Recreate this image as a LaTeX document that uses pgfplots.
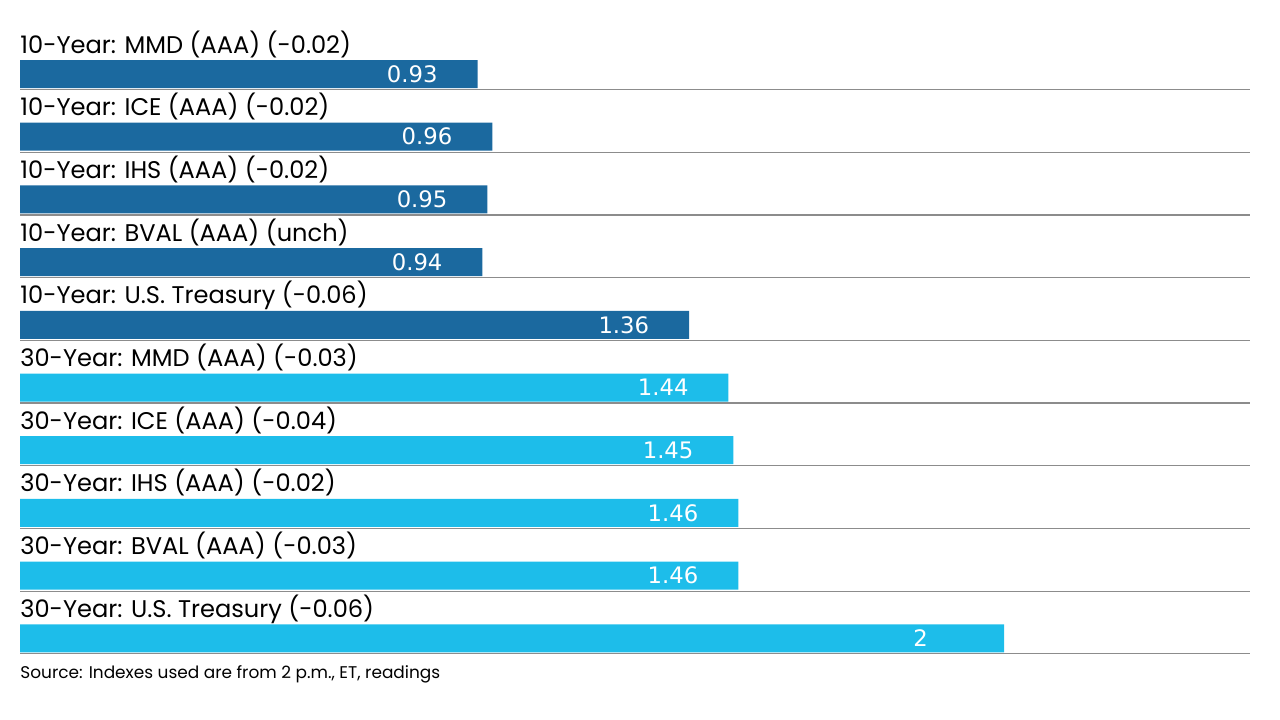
\documentclass[border=0pt]{standalone}
\usepackage{fontspec}
\setmainfont{Poppins}
\newfontfamily\valfont{DejaVu Sans}
\usepackage{pgfplots}
\pgfplotsset{compat=1.18}
\definecolor{darkblue}{HTML}{1B699F}
\definecolor{lightblue}{HTML}{1DBDEA}
\definecolor{sepgray}{HTML}{8C8C8C}
\begin{document}
\begin{tikzpicture}
\useasboundingbox (0,0) rectangle (640bp,360bp);
\begin{axis}[
    at={(0,0)}, anchor=south west,
    scale only axis, width=640bp, height=360bp,
    hide axis, clip=false,
    xmin=-0.04065, xmax=2.56098,
    ymin=0, ymax=720, y dir=reverse,
    xbar, bar shift=0pt, bar width=28,
    point meta=explicit symbolic,
    nodes near coords,
    every node near coord/.append style={anchor=west, xshift=-45.5bp, inner sep=0pt,
        text=white, font=\valfont\fontsize{11.4}{13}\selectfont},
]
% rows: bar centre = 74 + 62.7*i (pixel units)
\addplot[fill=darkblue, draw=none] coordinates {
    (0.93,74)[0.93] (0.96,136.7)[0.96] (0.95,199.4)[0.95] (0.94,262.1)[0.94] (1.36,324.8)[1.36]
};
\addplot[fill=lightblue, draw=none] coordinates {
    (1.44,387.5)[1.44] (1.45,450.2)[1.45] (1.46,512.9)[1.46] (1.46,575.6)[1.46] (2,638.3)[2]
};
\foreach \lab [count=\i from 0] in {
    10-Year: MMD (AAA) (-0.02),
    10-Year: ICE (AAA) (-0.02),
    10-Year: IHS (AAA) (-0.02),
    10-Year: BVAL (AAA) (unch),
    10-Year: U.S. Treasury (-0.06),
    30-Year: MMD (AAA) (-0.03),
    30-Year: ICE (AAA) (-0.04),
    30-Year: IHS (AAA) (-0.02),
    30-Year: BVAL (AAA) (-0.03),
    30-Year: U.S. Treasury (-0.06)} {
    \pgfmathsetmacro{\yb}{53+62.7*\i}
    \pgfmathsetmacro{\ys}{89.5+62.7*\i}
    \edef\temp{\noexpand\node[anchor=base west, inner sep=0pt, font=\noexpand\fontsize{12.1}{14}\noexpand\selectfont]
        at (axis cs:0,\yb) {\lab};
      \noexpand\draw[sepgray, line width=0.6bp] (axis cs:0,\ys) -- (axis cs:2.5,\ys);}
    \temp
}
\node[anchor=base west, inner sep=0pt, font=\fontsize{8.5}{10}\selectfont]
    at (axis cs:0,678) {Source: Indexes used are from 2 p.m., ET, readings};
\end{axis}
\end{tikzpicture}
\end{document}
